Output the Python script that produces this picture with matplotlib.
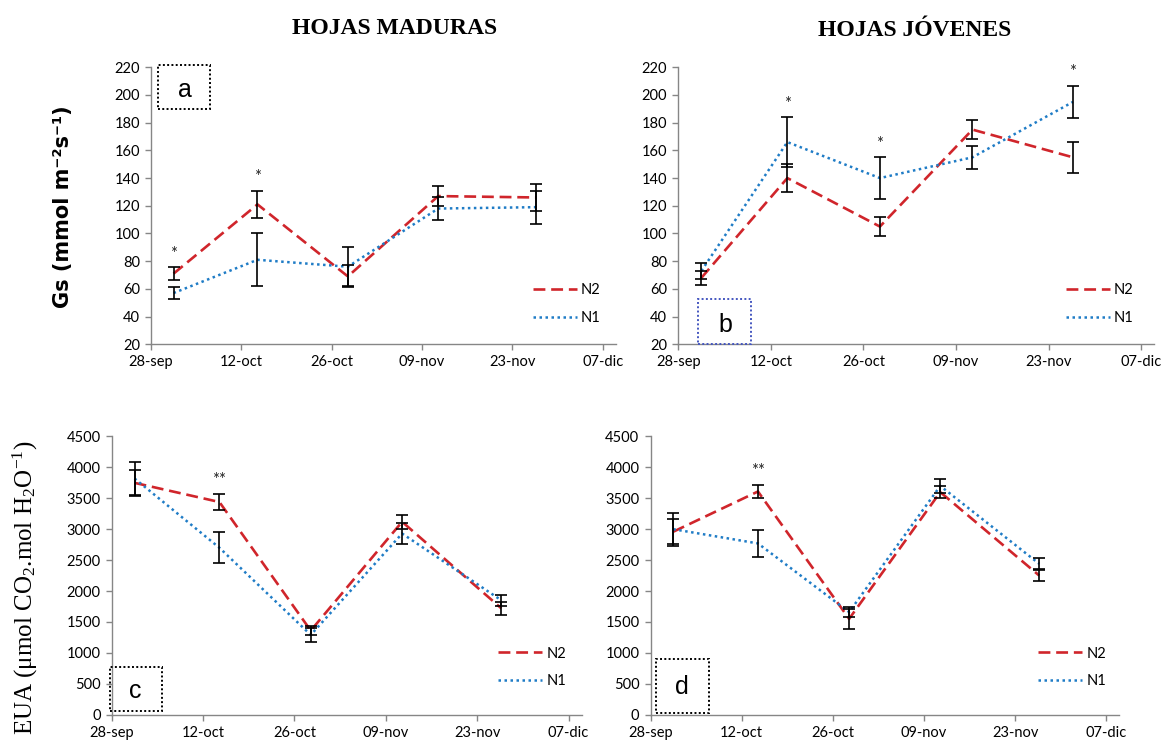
import matplotlib
matplotlib.use("Agg")
import matplotlib.pyplot as plt
from matplotlib.patches import Rectangle

# Sampling days, counted from 28-sep
days = [3.5, 16.5, 30.5, 44.5, 59.7]
date_ticks = [0, 14, 28, 42, 56, 70]
date_labels = ["28-sep", "12-oct", "26-oct", "09-nov", "23-nov", "07-dic"]

# Stomatal conductance, mature leaves
gs_mad_n2 = [71, 121, 69, 127, 126]
gs_mad_n2_err = [4.5, 10, 8, 7, 10]
gs_mad_n1 = [57, 81, 76, 118, 119]
gs_mad_n1_err = [4, 19, 14, 8, 12]
gs_mad_sig = {0: "*", 1: "*"}

# Stomatal conductance, young leaves
gs_jov_n2 = [68, 140, 105, 175, 155]
gs_jov_n2_err = [5, 10, 7, 7, 11]
gs_jov_n1 = [73, 166, 140, 155, 195]
gs_jov_n1_err = [6, 18, 15, 8.5, 11.5]
gs_jov_sig = {1: "*", 2: "*", 4: "*"}

# Water use efficiency, mature leaves
eua_mad_n2 = [3750, 3440, 1360, 3120, 1720]
eua_mad_n2_err = [210, 130, 70, 110, 110]
eua_mad_n1 = [3820, 2700, 1290, 2930, 1850]
eua_mad_n1_err = [260, 250, 110, 170, 90]
eua_mad_sig = {1: "**"}

# Water use efficiency, young leaves
eua_jov_n2 = [2960, 3610, 1550, 3600, 2250]
eua_jov_n2_err = [200, 110, 160, 100, 90]
eua_jov_n1 = [3000, 2770, 1660, 3700, 2440]
eua_jov_n1_err = [270, 220, 80, 110, 90]
eua_jov_sig = {1: "**"}

RED = "#d0252b"
BLUE = "#1f7cc6"
GRAY = "#868686"
TICK_FONT = "Lato"

plt.rcParams["mathtext.fontset"] = "custom"
plt.rcParams["mathtext.rm"] = "Liberation Serif"
plt.rcParams["mathtext.it"] = "Liberation Serif:italic"

fig = plt.figure(figsize=(11.65, 7.46), dpi=100)

positions = {
    "a": [0.1296, 0.5385, 0.3989, 0.3713],
    "b": [0.5822, 0.5385, 0.4086, 0.3713],
    "c": [0.0959, 0.0420, 0.4033, 0.3729],
    "d": [0.5584, 0.0420, 0.4024, 0.3729],
}


def draw_panel(key, n2, n2_err, n1, n1_err, sig, ylim, ystep,
               leg_x, leg_y, box, box_color, letter_xy):
    ax = fig.add_axes(positions[key])
    ax.plot(days, n2, color=RED, lw=1.9, dashes=(4.5, 2.2), label="N2", zorder=3)
    ax.plot(days, n1, color=BLUE, lw=1.8, dashes=(1.0, 1.4), label="N1", zorder=3)
    ax.errorbar(days, n2, yerr=n2_err, fmt="none", ecolor="black",
                elinewidth=1.2, capsize=4, capthick=1.2, zorder=4)
    ax.errorbar(days, n1, yerr=n1_err, fmt="none", ecolor="black",
                elinewidth=1.2, capsize=4, capthick=1.2, zorder=4)
    for i, mark in sig.items():
        top = max(n2[i] + n2_err[i], n1[i] + n1_err[i])
        ax.annotate(mark, xy=(days[i], top), xytext=(0, 4),
                    textcoords="offset points", ha="center", va="bottom",
                    fontsize=12, family=TICK_FONT, color="#222222")
    ax.set_xlim(0, 72)
    ax.set_ylim(*ylim)
    ax.set_xticks(date_ticks)
    ax.set_xticklabels(date_labels)
    ax.set_yticks(range(ylim[0], ylim[1] + 1, ystep))
    for s in ("top", "right"):
        ax.spines[s].set_visible(False)
    for s in ("left", "bottom"):
        ax.spines[s].set_color(GRAY)
        ax.spines[s].set_linewidth(1.0)
    ax.tick_params(direction="out", length=4, width=1.0, color=GRAY,
                   labelsize=10.5, pad=4)
    for lab in ax.get_xticklabels() + ax.get_yticklabels():
        lab.set_family(TICK_FONT)
        lab.set_color("black")
    ax.legend(loc="upper left", bbox_to_anchor=(leg_x, leg_y),
              frameon=False, borderpad=0, borderaxespad=0,
              handlelength=3.0, handletextpad=0.3, labelspacing=0.95,
              prop={"family": TICK_FONT, "size": 10.5})
    x0, y0, x1, y1 = box
    ax.add_patch(Rectangle((x0, y0), x1 - x0, y1 - y0, transform=ax.transAxes,
                           fill=False, edgecolor=box_color, lw=1.4,
                           linestyle=(0, (1, 1.2)), clip_on=False, zorder=5))
    ax.text(letter_xy[0], letter_xy[1], key, transform=ax.transAxes,
            ha="center", va="center", fontsize=18, family="Liberation Sans")
    return ax


draw_panel("a", gs_mad_n2, gs_mad_n2_err, gs_mad_n1, gs_mad_n1_err, gs_mad_sig,
           (20, 220), 20, 0.822, 0.222,
           (0.016, 0.848, 0.128, 1.008), "black", (0.074, 0.918))
draw_panel("b", gs_jov_n2, gs_jov_n2_err, gs_jov_n1, gs_jov_n1_err, gs_jov_sig,
           (20, 220), 20, 0.8145, 0.222,
           (0.042, 0.0, 0.152, 0.162), "#4557c0", (0.098, 0.07))
draw_panel("c", eua_mad_n2, eua_mad_n2_err, eua_mad_n1, eua_mad_n1_err, eua_mad_sig,
           (0, 4500), 500, 0.823, 0.245,
           (-0.004, 0.014, 0.107, 0.173), "black", (0.05, 0.085))
draw_panel("d", eua_jov_n2, eua_jov_n2_err, eua_jov_n1, eua_jov_n1_err, eua_jov_sig,
           (0, 4500), 500, 0.827, 0.245,
           (0.012, 0.007, 0.124, 0.199), "black", (0.066, 0.10))

fig.text(395 / 1165, 1 - 29 / 746, "HOJAS MADURAS", ha="center", va="center",
         fontsize=17, fontweight="bold", family="Liberation Serif")
fig.text(915 / 1165, 1 - 31 / 746, "HOJAS JÓVENES", ha="center", va="center",
         fontsize=17, fontweight="bold", family="Liberation Serif")

fig.text(63 / 1165, 1 - 207 / 746, "Gs (mmol m\u207b\u00b2s\u207b\u00b9)",
         rotation=90, ha="center", va="center", fontsize=15, fontweight="bold",
         family="DejaVu Sans")

fig.text(25 / 1165, 1 - 588 / 746,
         r"EUA ($\mathrm{\mu}$mol CO$_2$.mol H$_2$O$^{-1}$)",
         rotation=90, ha="center", va="center", fontsize=18,
         family="Liberation Serif")

fig.savefig("out.png", dpi=100)
